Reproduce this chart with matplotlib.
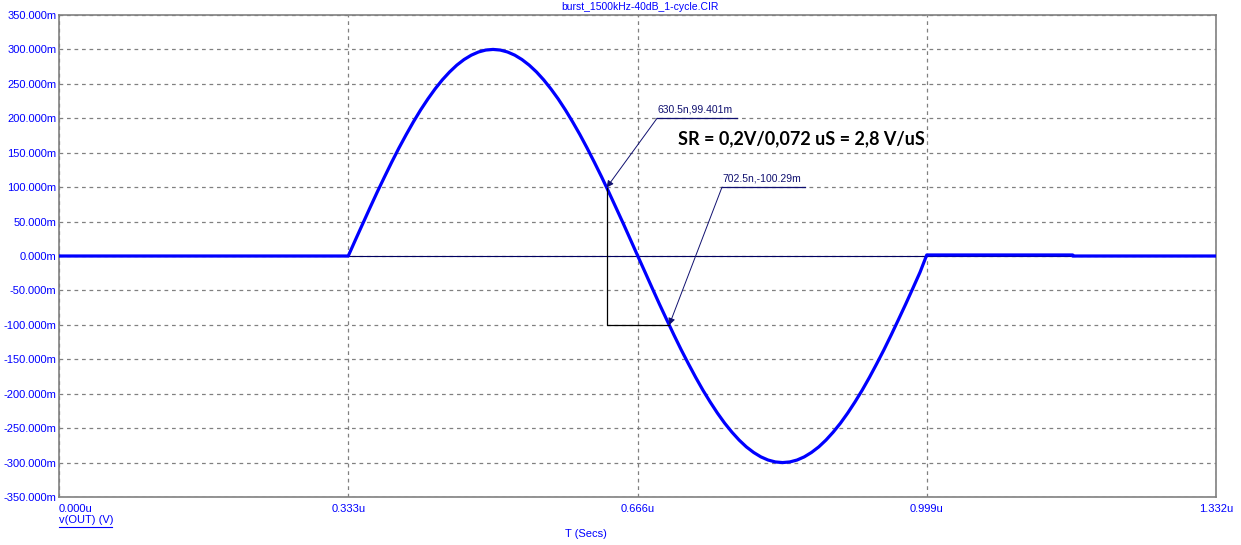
import numpy as np
import matplotlib
matplotlib.use('Agg')
import matplotlib.pyplot as plt
from matplotlib.lines import Line2D

# waveform (time in us, voltage in mV)
t_us = [0.0, 0.333, 0.3413, 0.3497, 0.358, 0.3663, 0.3747, 0.383, 0.3913, 0.3997, 0.408,
        0.4163, 0.4247, 0.433, 0.4413, 0.4497, 0.458, 0.4663, 0.4747, 0.483, 0.4913,
        0.4997, 0.508, 0.5163, 0.5247, 0.533, 0.5413, 0.5497, 0.558, 0.5663, 0.5747,
        0.583, 0.5913, 0.5997, 0.608, 0.6163, 0.6247, 0.633, 0.6413, 0.6497, 0.658,
        0.6663, 0.6747, 0.683, 0.6913, 0.6997, 0.708, 0.7163, 0.7247, 0.733, 0.7413,
        0.7497, 0.758, 0.7663, 0.7747, 0.783, 0.7913, 0.7997, 0.808, 0.8163, 0.8247,
        0.833, 0.8413, 0.8497, 0.858, 0.8663, 0.8747, 0.883, 0.8913, 0.8997, 0.908,
        0.9163, 0.9247, 0.933, 0.9413, 0.9497, 0.958, 0.9663, 0.9747, 0.983, 0.9913,
        0.999, 1.167, 1.167, 1.332]
v_mv = [0.0, 0.0, 23.5, 46.9, 70.0, 92.7, 114.8, 136.2, 156.7, 176.3, 194.8,
        212.1, 228.1, 242.7, 255.8, 267.3, 277.2, 285.3, 291.7, 296.3, 299.1,
        300.0, 299.1, 296.3, 291.7, 285.3, 277.2, 267.3, 255.8, 242.7, 228.1,
        212.1, 194.8, 176.3, 156.7, 136.2, 114.8, 92.7, 70.0, 46.9, 23.5,
        0.0, -23.5, -46.9, -70.0, -92.7, -114.8, -136.2, -156.7, -176.3, -194.8,
        -212.1, -228.1, -242.7, -255.8, -267.3, -277.2, -285.3, -291.7, -296.3, -299.1,
        -300.0, -299.1, -296.3, -291.7, -285.3, -277.2, -267.3, -255.8, -242.7, -228.1,
        -212.1, -194.8, -176.3, -156.7, -136.2, -114.8, -92.7, -70.0, -46.9, -23.5,
        1.5, 1.5, 0.0, 0.0]
v = [x / 1000 for x in v_mv]

x_ticks = [0.0, 0.333, 0.666, 0.999, 1.332]
x_labels = ['0.000u', '0.333u', '0.666u', '0.999u', '1.332u']
y_ticks_mv = [-350, -300, -250, -200, -150, -100, -50, 0, 50, 100, 150, 200, 250, 300, 350]
y_labels = ['%.3fm' % y for y in y_ticks_mv]

cursor1 = (0.6305, 0.099401)
cursor2 = (0.7025, -0.10029)
cursor_labels = ['630.5n,99.401m', '702.5n,-100.29m']

plt.rcParams['font.family'] = ['Liberation Sans', 'DejaVu Sans']

fig = plt.figure(figsize=(12.41, 5.45), dpi=100)
ax = fig.add_axes([59/1241, 1-497/545, (1216-59)/1241, (497-15)/545])

ax.plot(t_us, v, color='#0000ff', lw=2.3, solid_joinstyle='round', zorder=4)
ax.axhline(0, color='#000060', lw=0.8, zorder=3)

ax.set_xlim(0, 1.332)
ax.set_ylim(-0.35, 0.35)
ax.set_xticks(x_ticks)
ax.set_xticklabels(x_labels)
ax.set_yticks([y / 1000 for y in y_ticks_mv])
ax.set_yticklabels(y_labels)
ax.tick_params(length=0, labelsize=8, labelcolor='#0000ff')
ax.tick_params(axis='x', pad=5)
ax.tick_params(axis='y', pad=2)
ax.get_xticklabels()[0].set_horizontalalignment('left')
ax.grid(True, color='#808080', ls=(0, (3, 3)), lw=0.9)
for s in ax.spines.values():
    s.set_color('#808080')
    s.set_linewidth(1.2)

# cursor lines
ax.plot([cursor1[0], cursor1[0], cursor2[0]], [cursor1[1], cursor2[1], cursor2[1]],
        color='black', lw=0.9, zorder=5)

navy = '#101070'
for pt, lab, (x0, x1, yl) in zip([cursor1, cursor2], cursor_labels,
                                  [(0.6885, 0.7806, 0.2), (0.7633, 0.8589, 0.1)]):
    ax.plot([x0, x1], [yl, yl], color=navy, lw=0.9, zorder=5)
    ax.annotate('', xy=pt, xytext=(x0, yl),
                arrowprops=dict(arrowstyle='-|>', color=navy, lw=0.7, mutation_scale=10,
                                shrinkA=0, shrinkB=0), zorder=6)
    ax.text(x0 + 0.0005, yl + 0.006, lab, fontsize=7.5, color=navy, ha='left', va='bottom')

ax.text(0.7126, 0.170, 'SR = 0,2V/0,072 uS = 2,8 V/uS', fontsize=13,
        fontweight='bold', family=['Lato', 'DejaVu Sans'], ha='left', va='center', color='black')

fig.text(640/1241, 1-7/545, 'burst_1500kHz-40dB_1-cycle.CIR', fontsize=7.5,
         color='#0000ff', ha='center', va='center')
fig.text(59/1241, 1-520/545, 'v(OUT) (V)', fontsize=8, color='#0000ff', ha='left', va='center')
fig.add_artist(Line2D([59/1241, 112/1241], [1-527/545, 1-527/545], color='#0000ff', lw=0.8))
fig.text(586/1241, 1-534/545, 'T (Secs)', fontsize=8, color='#0000ff', ha='center', va='center')

fig.savefig('out.png', dpi=100)
